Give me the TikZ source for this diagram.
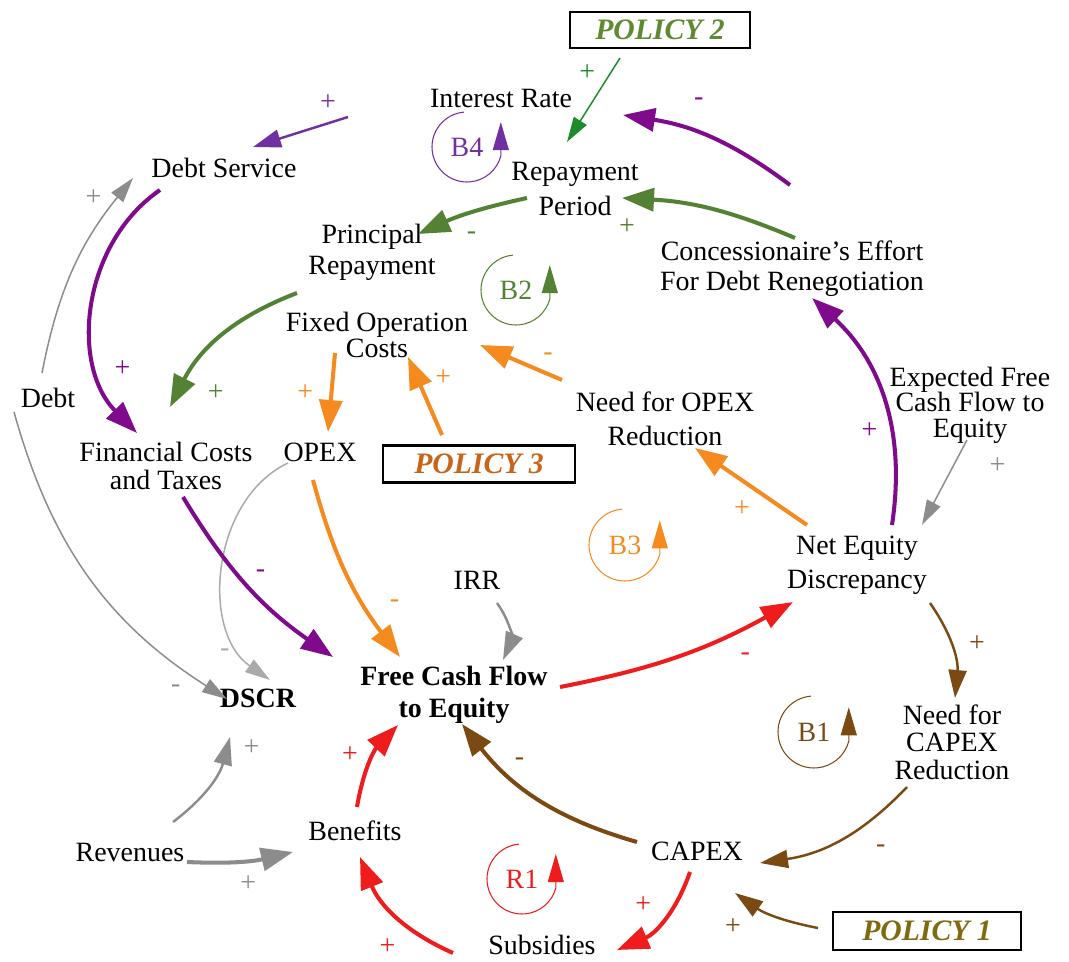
\documentclass[tikz,border=0pt]{standalone}
\usepackage{fontspec}
\setmainfont{Liberation Serif}
\usepackage{tikz}
\usetikzlibrary{arrows.meta, positioning, calc}

\definecolor{cldviolet}{HTML}{7030A0}
\definecolor{cldpurple}{HTML}{800A8C}
\definecolor{cldgreen}{HTML}{548235}
\definecolor{polgreen}{HTML}{1E8A2E}
\definecolor{cldorange}{HTML}{F58A1F}
\definecolor{cldred}{HTML}{EE1C1C}
\definecolor{cldbrown}{HTML}{7B4A12}
\definecolor{cldgray}{HTML}{8C8C8C}
\definecolor{cldlightgray}{HTML}{AAAAAA}
\definecolor{policyone}{HTML}{7F6A10}
\definecolor{policytwo}{HTML}{5E8A32}
\definecolor{policythree}{HTML}{C8651B}

\tikzset{
  var/.style={align=center, inner sep=1pt, font=\fontsize{15.9}{#1}\selectfont},
  var/.default=17.6,
  keyvar/.style={align=center, inner sep=1pt, font=\fontsize{15.9}{#1}\selectfont\bfseries},
  keyvar/.default=18.2,
  policy/.style={draw, line width=1.3pt, inner sep=0pt, font=\fontsize{16.9}{19}\selectfont\bfseries\itshape},
  loopname/.style={inner sep=0pt, font=\fontsize{15.9}{17}\selectfont},
  loopsym/.style={line width=0.6pt, -{Triangle[length=0.56cm, width=0.32cm]}},
  thicklink/.style={line width=2.3pt, -{Triangle[length=0.64cm, width=0.46cm]}},
  midlink/.style={line width=1.4pt, -{Triangle[length=0.56cm, width=0.36cm]}},
  thinlink/.style={line width=0.85pt, -{Triangle[length=0.5cm, width=0.3cm]}},
  pm/.style={inner sep=0pt, font=\fontsize{15.9}{17}\selectfont},
}

\begin{document}
\begin{tikzpicture}[x=0.02cm, y=0.02cm]
    \useasboundingbox (0,0) rectangle (1069,-962);

    % Policies
    \node [policy, text=policytwo, minimum width=3.6cm, minimum height=0.72cm] (pol2) at (660,-30) {POLICY 2};
    \node [policy, text=policythree, minimum width=3.84cm, minimum height=0.74cm] (pol3) at (479,-464) {POLICY 3};
    \node [policy, text=policyone, minimum width=3.76cm, minimum height=0.76cm] (pol1) at (927,-931) {POLICY 1};

    % Variables
    \node [var] (ir) at (501,-98) {Interest Rate};
    \node [var] (ds) at (224,-168) {Debt Service};
    \node [var=19.8] (rp) at (575,-189) {Repayment\\Period};
    \node [var] (pr) at (372,-252) {Principal\\Repayment};
    \node [var=17] (cedr) at (792,-269) {Concessionaire’s Effort\\For Debt Renegotiation};
    \node [var=12] (foc) at (377,-335) {Fixed Operation\\Costs};
    \node [var] (debt) at (48,-398) {Debt};
    \node [var=15.9] (fct) at (166,-466) {Financial Costs\\and Taxes};
    \node [var] (opex) at (320,-452) {OPEX};
    \node [var=19.3] (nopex) at (665,-419) {Need for OPEX\\Reduction};
    \node [var=14.6] (efcf) at (970,-405) {Expected Free\\Cash Flow to\\Equity};
    \node [var=19.3] (ned) at (857,-565) {Net Equity\\Discrepancy};
    \node [var] (irr) at (477,-580) {IRR};
    \node [keyvar] (fcfe) at (454,-695) {Free Cash Flow\\to Equity};
    \node [keyvar] (dscr) at (258,-698) {DSCR};
    \node [var=15.6] (ncapex) at (952,-742) {Need for\\CAPEX\\Reduction};
    \node [var] (ben) at (355,-831) {Benefits};
    \node [var] (rev) at (130,-852) {Revenues};
    \node [var] (capex) at (697,-851) {CAPEX};
    \node [var] (subs) at (542,-945) {Subsidies};

    % Loop markers
    \node [loopname, text=cldviolet] (b4) at (467,-147) {B4};
    \draw [loopsym, cldviolet] ([shift={(95:35)}]b4.center) arc[start angle=95, end angle=345, radius=35] -- ++(0,34);
    \node [loopname, text=cldgreen] (b2) at (516,-290) {B2};
    \draw [loopsym, cldgreen] ([shift={(95:35)}]b2.center) arc[start angle=95, end angle=345, radius=35] -- ++(0,34);
    \node [loopname, text=cldorange] (b3) at (625,-545) {B3};
    \draw [loopsym, cldorange] ([shift={(95:36)}]b3.center) arc[start angle=95, end angle=345, radius=36] -- ++(0,34);
    \node [loopname, text=cldbrown] (b1) at (814,-732) {B1};
    \draw [loopsym, cldbrown] ([shift={(95:36)}]b1.center) arc[start angle=95, end angle=345, radius=36] -- ++(0,34);
    \node [loopname, text=cldred] (r1) at (522,-879) {R1};
    \draw [loopsym, cldred] ([shift={(95:35)}]r1.center) arc[start angle=95, end angle=345, radius=35] -- ++(0,34);

    % Debt loop (B4, B2)
    \draw [midlink, cldviolet] ([shift={(-153,-19)}]ir.center) -- node[pm, pos=0.21, yshift=12pt] {+} ([shift={(29,21)}]ds.center);
    \draw [thinlink, polgreen] ([shift={(-40,-28)}]pol2.center) -- node[pm, pos=0.3, xshift=-9.6pt, yshift=6pt] {+} ([shift={(-8,47)}]rp.center);
    \draw [thicklink, cldpurple] ([shift={(-2,84)}]cedr.center) to[bend right=14] node[pm, pos=0.58, yshift=18pt] {-} ([shift={(122,-17)}]ir.center);
    \draw [thicklink, cldgreen] ([shift={(3,31)}]cedr.center) to[bend right=10] node[pm, pos=0.95, xshift=-3pt, yshift=-16pt] {+} ([shift={(47,-9)}]rp.center);
    \draw [thicklink, cldgreen] ([shift={(-48,-9)}]rp.center) to[bend right=6] node[pm, pos=0.5, yshift=-13pt] {-} ([shift={(46,18)}]pr.center);
    \draw [thicklink, cldgreen] ([shift={(-75,-41)}]pr.center) to[bend right=21] node[pm, pos=0.85, xshift=18pt, yshift=-6pt] {+} ([shift={(4,59)}]fct.center);
    \draw [thicklink, cldpurple] ([shift={(-64,-22)}]ds.center) to[bend right=50] node[pm, pos=0.73, xshift=13pt] {+} ([shift={(-29,33)}]fct.center);
    \draw [thinlink, cldgray] ([shift={(-6,25)}]debt.center) to[bend left=14] node[pm, pos=0.9, xshift=-14pt] {+} ([shift={(-91,-10)}]ds.center);

    % DSCR
    \draw [thinlink, cldgray] ([shift={(-34,-14)}]debt.center) to[bend right=21] node[pm, pos=0.9, xshift=-10pt, yshift=-7pt] {-} ([shift={(-31,-1)}]dscr.center);
    \draw [thinlink, cldlightgray] ([shift={(-32,-11)}]opex.center) to[bend right=60] node[pm, pos=0.85, xshift=-11pt] {-} ([shift={(12,18)}]dscr.center);
    \draw [midlink, cldgray] ([shift={(43,30)}]rev.center) to[bend right=19] node[pm, pos=0.85, xshift=15pt, yshift=3pt] {+} ([shift={(-28,-39)}]dscr.center);

    % OPEX loop (B3)
    \draw [thicklink, cldorange] ([shift={(-42,-18)}]foc.center) -- node[pm, pos=0.5, xshift=-15pt] {+} ([shift={(8,20)}]opex.center);
    \draw [thicklink, cldorange] ([shift={(-37,29)}]pol3.center) -- node[pm, pos=0.74, xshift=15pt] {+} ([shift={(31,-22)}]foc.center);
    \draw [thicklink, cldorange] ([shift={(-103,39)}]nopex.center) -- node[pm, pos=0.17, yshift=9.6pt] {-} ([shift={(103,-10)}]foc.center);
    \draw [thicklink, cldorange] ([shift={(-50,40)}]ned.center) -- node[pm, pos=0.58, yshift=-16pt] {+} ([shift={(30,-29)}]nopex.center);
    \draw [thicklink, cldorange] ([shift={(-7,-28)}]opex.center) to[bend right=11] node[pm, pos=0.72, xshift=16pt, yshift=3pt] {-} ([shift={(-54,38)}]fcfe.center);

    % Free Cash Flow to Equity
    \draw [thicklink, cldpurple] ([shift={(17,-31)}]fct.center) to[bend right=12] node[pm, pos=0.5, xshift=7pt, yshift=7pt] {-} ([shift={(-121,38)}]fcfe.center);
    \draw [midlink, cldgray] ([shift={(20,-23)}]irr.center) to[bend left=30] ([shift={(49,35)}]fcfe.center);
    \draw [thicklink, cldred] ([shift={(106,8)}]fcfe.center) to[bend right=9] node[pm, pos=0.8, yshift=-17pt] {-} ([shift={(-64,-37)}]ned.center);
    \draw [thicklink, cldpurple] ([shift={(35,40)}]ned.center) to[bend right=28] node[pm, pos=0.37, xshift=-12.5pt] {+} ([shift={(20,-29)}]cedr.center);
    \draw [thinlink, cldgray] ([shift={(-3,-35)}]efcf.center) -- node[pm, pos=0.3, xshift=25pt] {+} ([shift={(65,40)}]ned.center);

    % CAPEX loop (B1)
    \draw [midlink, cldbrown] ([shift={(73,-38)}]ned.center) to[bend left=20] node[pm, pos=0.45, xshift=15pt] {+} ([shift={(3,44)}]ncapex.center);
    \draw [midlink, cldbrown] ([shift={(-45,-45)}]ncapex.center) to[bend left=19] node[pm, pos=0.2, yshift=-21pt] {-} ([shift={(63,-12)}]capex.center);
    \draw [thicklink, cldbrown] ([shift={(-60,9)}]capex.center) to[bend left=18] node[pm, pos=0.62, yshift=13pt] {-} ([shift={(8,-29)}]fcfe.center);
    \draw [midlink, cldbrown] ([shift={(-109,3)}]pol1.center) to[bend left=12] node[pm, pos=0.9, xshift=-6pt, yshift=-16pt] {+} ([shift={(38,-42)}]capex.center);

    % Subsidies loop (R1)
    \draw [thicklink, cldred] ([shift={(-7,-21)}]capex.center) to[bend left=24] node[pm, pos=0.4, xshift=-15pt, yshift=4pt] {+} ([shift={(75,-5)}]subs.center);
    \draw [thicklink, cldred] ([shift={(-89,-8)}]subs.center) to[bend left=22] node[pm, pos=0.3, xshift=-16pt, yshift=-8pt] {+} ([shift={(5,-26)}]ben.center);
    \draw [thicklink, cldred] ([shift={(2,24)}]ben.center) to[bend left=17] node[pm, pos=0.6, xshift=-14pt] {+} ([shift={(-56,-30)}]fcfe.center);
    \draw [thicklink, cldgray] ([shift={(57,-10)}]rev.center) to[bend right=8] node[pm, pos=0.58, yshift=-13pt] {+} ([shift={(-62,-21)}]ben.center);

\end{tikzpicture}
\end{document}
